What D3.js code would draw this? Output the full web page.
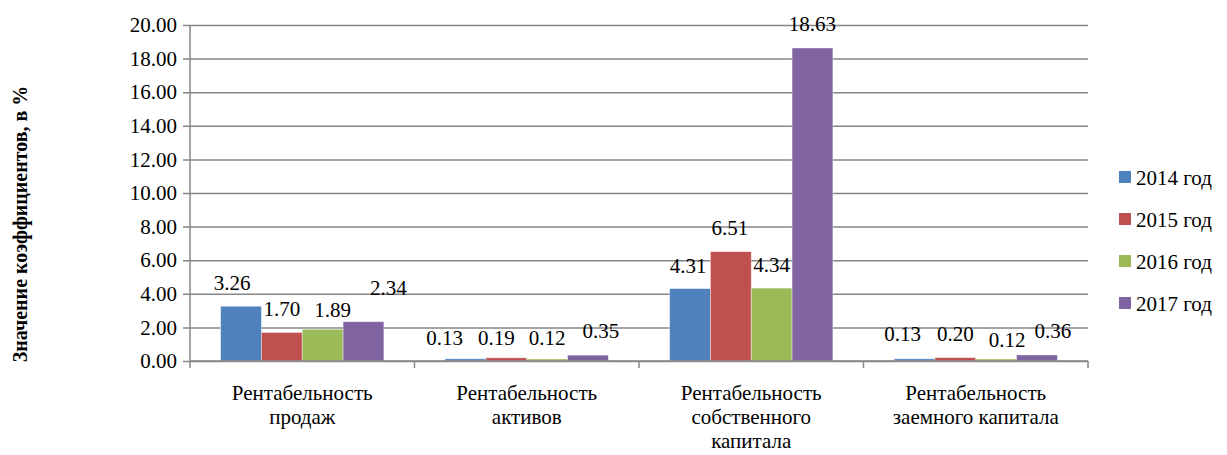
<!DOCTYPE html>
<html>
<head>
<meta charset="utf-8">
<script src="https://cdn.jsdelivr.net/npm/d3@7"></script>
<style>
  html, body { margin: 0; padding: 0; background: #fff; }
  svg, svg text, svg tspan { font-family: "Liberation Serif", serif !important; }
</style>
</head>
<body>
<svg id="fig" width="1227" height="455" font-family="Liberation Serif"></svg>
<script>
// Profitability ratios by year, %
const categories = [
  ["Рентабельность", "продаж"],
  ["Рентабельность", "активов"],
  ["Рентабельность", "собственного", "капитала"],
  ["Рентабельность", "заемного капитала"]
];
const seriesNames = ["2014 год", "2015 год", "2016 год", "2017 год"];
const values2014 = [3.26, 0.13, 4.31, 0.13];
const values2015 = [1.70, 0.19, 6.51, 0.20];
const values2016 = [1.89, 0.12, 4.34, 0.12];
const values2017 = [2.34, 0.35, 18.63, 0.36];
const yTicks = [0, 2, 4, 6, 8, 10, 12, 14, 16, 18, 20];
const axisTitle = "Значение коэффициентов, в %";

const seriesValues = [values2014, values2015, values2016, values2017];
const colors = ["#4F81BD", "#C0504D", "#9BBB59", "#8064A2"];
const FONT = '"Liberation Serif"';
const FS = 21;

// hand-placed label nudges [dx, dy] per category, per series
const labelNudge = [
  [[-9, 0], [0, 0], [10, 4], [25, -11]],
  [[-21, 2], [-10, 3], [0, 2], [13, -1]],
  [[-2, 0], [-1, -1], [0, 0], [0, -1]],
  [[-12, -2], [0, -1], [11, 4], [16, -1]]
];

const svg = d3.select("#fig");
const plot = { left: 190, right: 1088, top: 25, bottom: 361 };

const x = d3.scaleBand()
  .domain(d3.range(categories.length))
  .range([plot.left, plot.right])
  .paddingInner(0)
  .paddingOuter(0);

const xInner = d3.scaleBand()
  .domain(d3.range(seriesNames.length))
  .range([0, x.bandwidth()])
  .paddingInner(0)
  .paddingOuter(0.75);

const y = d3.scaleLinear().domain([0, 20]).range([plot.bottom, plot.top]);

const gridColor = "#868686";

function serif(sel, size) {
  sel.attr("font-family", "Liberation Serif").style("font-family", FONT)
     .attr("font-size", size).attr("fill", "#000");
}

// gridlines with outward tick marks
const yAxis = d3.axisLeft(y).tickValues(yTicks)
  .tickSize(-(plot.right - plot.left)).tickPadding(13)
  .tickFormat(d3.format(".2f"));
const gy = svg.append("g").attr("transform", `translate(${plot.left},0)`).call(yAxis);
gy.attr("font-family", "Liberation Serif").attr("font-size", null);
gy.select(".domain").remove();
gy.selectAll(".tick line").attr("stroke", gridColor).attr("stroke-width", 1.5).attr("x1", -7);
gy.selectAll(".tick text").call(serif, FS);

// bars
const groups = svg.selectAll("g.cat").data(categories).join("g")
  .attr("class", "cat")
  .attr("transform", (d, i) => `translate(${x(i)},0)`);

groups.each(function (cat, ci) {
  const g = d3.select(this);
  seriesValues.forEach((vals, si) => {
    const v = vals[ci];
    g.append("rect")
      .attr("x", xInner(si))
      .attr("y", y(v))
      .attr("width", xInner.bandwidth())
      .attr("height", y(0) - y(v))
      .attr("fill", colors[si])
      .attr("stroke", "#fff")
      .attr("stroke-opacity", 0.5)
      .attr("stroke-width", 0.8);
    const n = labelNudge[ci][si];
    g.append("text")
      .attr("x", xInner(si) + xInner.bandwidth() / 2 + n[0])
      .attr("y", y(v) - 16 + n[1])
      .attr("text-anchor", "middle")
      .call(serif, FS)
      .text(v.toFixed(2));
  });
});

// axes lines
svg.append("line")
  .attr("x1", plot.left).attr("x2", plot.left)
  .attr("y1", plot.top).attr("y2", plot.bottom)
  .attr("stroke", gridColor).attr("stroke-width", 1.5);
svg.append("line")
  .attr("x1", plot.left).attr("x2", plot.right)
  .attr("y1", plot.bottom).attr("y2", plot.bottom)
  .attr("stroke", gridColor).attr("stroke-width", 1.5);

// category separators below the axis
const xAxis = d3.axisBottom(x).tickSize(0).tickFormat("");
const gx = svg.append("g").attr("transform", `translate(0,${plot.bottom})`).call(xAxis);
gx.attr("font-family", "Liberation Serif").attr("font-size", null);
gx.select(".domain").remove();
svg.selectAll("line.sep").data(d3.range(categories.length + 1)).join("line")
  .attr("class", "sep")
  .attr("x1", i => plot.left + i * x.step()).attr("x2", i => plot.left + i * x.step())
  .attr("y1", plot.bottom).attr("y2", plot.bottom + 7)
  .attr("stroke", gridColor).attr("stroke-width", 1.5);

// category labels
gx.selectAll(".tick").each(function (d) {
  const t = d3.select(this).append("text")
    .attr("text-anchor", "middle")
    .call(serif, FS);
  categories[d].forEach((line, li) => {
    t.append("tspan").attr("x", 0).attr("y", 39 + li * 24).text(line);
  });
});

// axis title
svg.append("text")
  .attr("transform", `translate(27,224) rotate(-90)`)
  .attr("text-anchor", "middle")
  .call(serif, 20)
  .attr("font-weight", "bold")
  .text(axisTitle);

// legend
const legend = svg.append("g").attr("transform", "translate(1119,0)");
seriesNames.forEach((name, i) => {
  const cy = 177 + i * 42;
  legend.append("rect")
    .attr("x", 0).attr("y", cy - 6).attr("width", 12).attr("height", 12)
    .attr("fill", colors[i]);
  legend.append("text")
    .attr("x", 17).attr("y", cy + 8)
    .call(serif, FS)
    .text(name);
});
</script>
</body>
</html>
